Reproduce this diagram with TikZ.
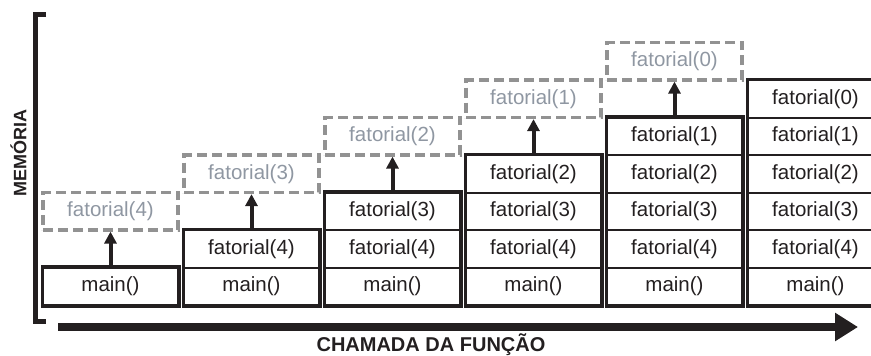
\documentclass[tikz,border=0pt]{standalone}
\usepackage{fontspec}
\setmainfont{Liberation Sans}
\usetikzlibrary{arrows.meta}
\definecolor{ink}{HTML}{231F20}
\definecolor{dgray}{HTML}{929292}
\definecolor{tgray}{HTML}{8F97A2}
\begin{document}
\begin{tikzpicture}[x=1pt,y=-1pt,
  cell/.style={draw=ink,line width=2pt,minimum width=135pt,minimum height=37.5pt,inner sep=0pt,text=ink,font=\fontsize{20.5}{24}\selectfont},
  ghost/.style={draw=dgray,dash pattern=on 10pt off 5pt,line width=3.2pt,minimum width=135pt,minimum height=37.5pt,inner sep=0pt,text=tgray,font=\fontsize{20.5}{24}\selectfont},
  outer/.style={draw=ink,line width=3pt},
  uparrow/.style={draw=ink,line width=4pt,-{Triangle[length=12pt,width=12pt]}},
  axisline/.style={draw=ink,line width=8pt,-{Triangle[length=23pt,width=27pt]}},
  bracket/.style={draw=ink,line width=5pt},
  axislabel/.style={text=ink,font=\bfseries\fontsize{20}{24}\selectfont,inner sep=0pt}]
\useasboundingbox (0,0) rectangle (871,356);
% stacks
\foreach \i in {0,...,5}{
  \foreach \k in {0,...,\i}{
    \pgfmathtruncatemacro{\n}{5-\k}
    \node[cell] (c\i r\k) at ({110.5+141*\i},{286.25-37.5*\k}) {\ifnum\k=0 main()\else fatorial(\n)\fi};
  }
  \draw[outer] (c\i r0.south west) rectangle (c\i r\i.north east);
}
% ghost frames and arrows
\foreach \i in {0,...,4}{
  \pgfmathtruncatemacro{\n}{4-\i}
  \node[ghost] (d\i) at ({110.5+141*\i},{286.25-37.5*(\i+2)}) {fatorial(\n)};
  \draw[uparrow] (c\i r\i.north) -- (d\i.south);
}
% axes
\coordinate (ya) at (46,14.5);
\coordinate (yb) at (35.5,14.5);
\coordinate (yc) at (35.5,321.5);
\coordinate (yd) at (46,321.5);
\draw[bracket] (ya) -- (yb) -- (yc) -- (yd);
\coordinate (xa) at (58,327);
\coordinate (xb) at (858,327);
\draw[axisline] (xa) -- (xb);
\node[axislabel] (xl) at (431,345) {CHAMADA DA FUNÇÃO};
\node[axislabel,rotate=90,font=\bfseries\fontsize{18}{22}\selectfont] (yl) at (18.5,153) {MEMÓRIA};
\end{tikzpicture}
\end{document}
